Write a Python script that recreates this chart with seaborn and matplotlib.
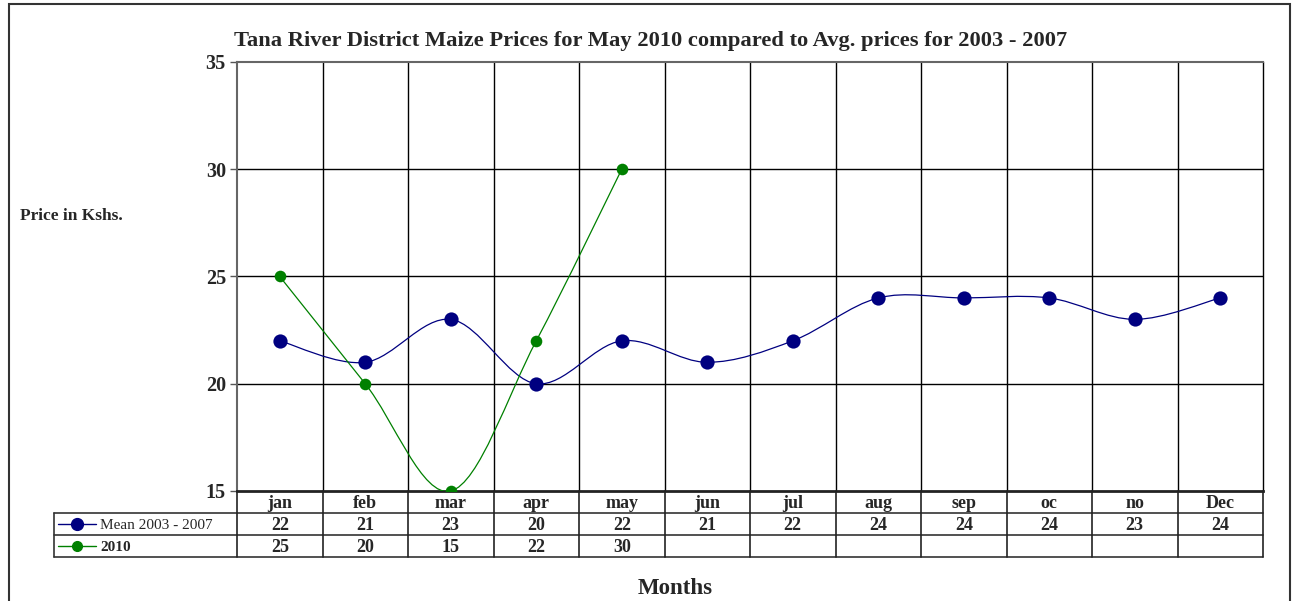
import numpy as np
import pandas as pd
import seaborn as sns
import matplotlib.pyplot as plt
from matplotlib.path import Path
from matplotlib.patches import PathPatch, Rectangle

months = ["jan", "feb", "mar", "apr", "may", "jun", "jul", "aug", "sep", "oc", "no", "Dec"]
mean_0307 = [22, 21, 23, 20, 22, 21, 22, 24, 24, 24, 23, 24]
prices_2010 = [25, 20, 15, 22, 30]
series_names = ["Mean 2003 - 2007", "2010"]
yticks = [15, 20, 25, 30, 35]

NAVY = "#000080"
GREEN = "#008000"

sns.set_style("white")
plt.rcParams["font.family"] = ["Liberation Serif", "DejaVu Serif"]

W, H = 1292, 601
fig = plt.figure(figsize=(W / 100, H / 100), dpi=100)

def px_axes(x0, y0, x1, y1):
    return fig.add_axes([x0 / W, 1 - y1 / H, (x1 - x0) / W, (y1 - y0) / H])

ax = px_axes(237, 62, 1263, 491)
n = len(months)


def smooth_path(xs, ys):
    # excel-style smoothed line as cubic bezier segments
    pts = np.column_stack([xs, ys]).astype(float)
    verts = [pts[0]]
    codes = [Path.MOVETO]
    for i in range(len(pts) - 1):
        p0 = pts[i - 1] if i > 0 else pts[i]
        p1, p2 = pts[i], pts[i + 1]
        p3 = pts[i + 2] if i + 2 < len(pts) else pts[i + 1]
        verts += [p1 + (p2 - p0) / 6, p2 - (p3 - p1) / 6, p2]
        codes += [Path.CURVE4] * 3
    return Path(verts, codes)


df = pd.concat([
    pd.DataFrame({"x": range(n), "price": mean_0307, "series": series_names[0]}),
    pd.DataFrame({"x": range(len(prices_2010)), "price": prices_2010, "series": series_names[1]}),
])

for name, color in [(series_names[0], NAVY), (series_names[1], GREEN)]:
    d = df[df.series == name]
    ax.add_patch(PathPatch(smooth_path(d.x.values, d.price.values), fill=False,
                           edgecolor=color, lw=0.9, zorder=3))

sns.scatterplot(data=df[df.series == series_names[0]], x="x", y="price", color=NAVY,
                s=105, marker="o", linewidth=0, ax=ax, zorder=4, legend=False)
sns.scatterplot(data=df[df.series == series_names[1]], x="x", y="price", color=GREEN,
                s=70, marker="o", linewidth=0, ax=ax, zorder=4, legend=False)

ax.set_xlim(-0.5, n - 0.5)
ax.set_ylim(15, 35)
ax.set_yticks(yticks)
ax.set_yticklabels([str(v) for v in yticks], fontsize=14.5, fontweight="bold")
ax.set_xticks([])
ax.set_xlabel("")
ax.set_ylabel("")
ax.tick_params(axis="y", length=5, width=1, color="#555555", left=True, pad=3)
for v in yticks[1:-1]:
    ax.axhline(v, color="black", lw=1, zorder=1)
for i in range(n - 1):
    ax.axvline(i + 0.5, color="black", lw=1, zorder=1)
ax.spines["left"].set_color("#666666")
ax.spines["left"].set_linewidth(1.5)
ax.spines["top"].set_color("#666666")
ax.spines["top"].set_linewidth(1.5)
ax.spines["right"].set_color("black")
ax.spines["right"].set_linewidth(1)
ax.spines["bottom"].set_color("#222222")
ax.spines["bottom"].set_linewidth(2)

# data table underneath
cw = (1263 - 237) / n
L = -0.5 - (237 - 54) / cw
tab = px_axes(54, 491, 1263, 557)
tab.set_xlim(L, n - 0.5)
tab.set_ylim(0, 3)
tab.axis("off")
for y in [0, 1, 2]:
    tab.plot([L, n - 0.5], [y, y], color="#333333", lw=1.2, clip_on=False)
tab.plot([L, L], [0, 2], color="#333333", lw=1.2, clip_on=False)
for i in range(n + 1):
    tab.plot([i - 0.5, i - 0.5], [0, 3], color="#222222", lw=1.2, clip_on=False)
for i, m in enumerate(months):
    tab.text(i, 2.45, m, ha="center", va="center", fontsize=13, fontweight="bold")
    tab.text(i, 1.45, str(mean_0307[i]), ha="center", va="center", fontsize=13, fontweight="bold")
for i, v in enumerate(prices_2010):
    tab.text(i, 0.45, str(v), ha="center", va="center", fontsize=13, fontweight="bold")

# legend keys inside the table
for row, name, color, ms, bold in [(1.5, series_names[0], NAVY, 8.5, False), (0.5, series_names[1], GREEN, 7, True)]:
    tab.plot([L + 0.05, L + 0.49], [row, row], color=color, lw=1, clip_on=False)
    tab.plot([L + 0.27], [row], "o", color=color, ms=ms, clip_on=False)
    tab.text(L + 0.54, row - 0.05, name, ha="left", va="center", fontsize=11,
             fontweight="bold" if bold else "normal")

fig.text(651 / W, 1 - 41 / H, "Tana River District Maize Prices for May 2010 compared to Avg. prices for 2003 - 2007",
         ha="center", va="center", fontsize=16.2, fontweight="bold")
fig.text(20 / W, 1 - 216 / H, "Price in Kshs.", ha="left", va="center", fontsize=12.5, fontweight="bold")
fig.text(675 / W, 1 - 589 / H, "Months", ha="center", va="center", fontsize=16.5, fontweight="bold")

fig.add_artist(Rectangle((9 / W, -0.05), (1290 - 9) / W, 1 - 4 / H + 0.05, transform=fig.transFigure,
                         fill=False, edgecolor="#333333", lw=1.5))

fig.savefig("out.png", dpi=100, facecolor="white")
